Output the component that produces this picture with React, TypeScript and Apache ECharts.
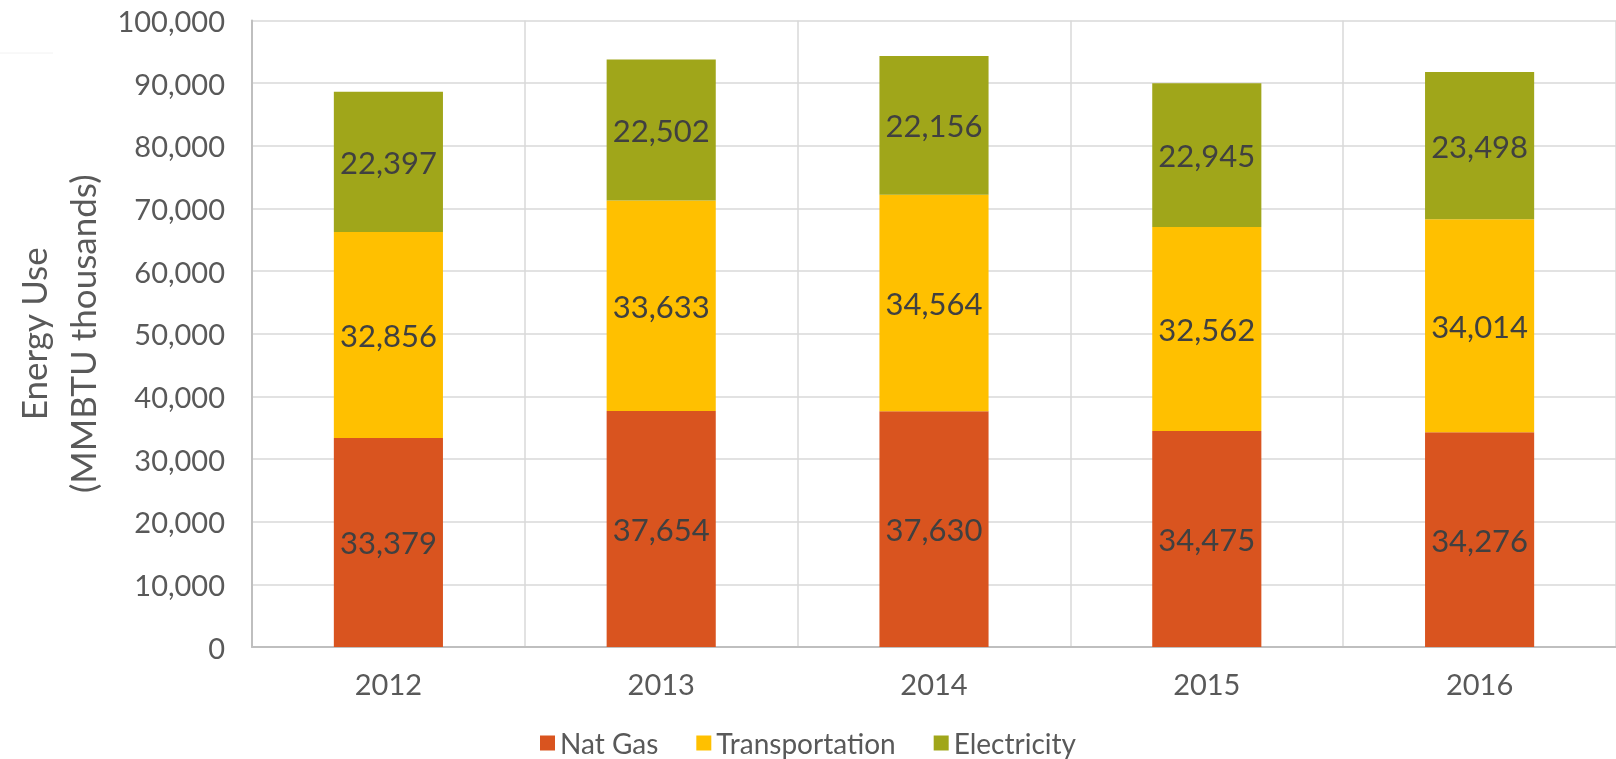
import React, { useEffect, useRef } from "react";
import * as echarts from "echarts";

const years = ["2012", "2013", "2014", "2015", "2016"];
const natGas = [33379, 37654, 37630, 34475, 34276];
const transportation = [32856, 33633, 34564, 32562, 34014];
const electricity = [22397, 22502, 22156, 22945, 23498];
const seriesNames = ["Nat Gas", "Transportation", "Electricity"];
const colors = ["#D9541F", "#FFC000", "#A0A61A"];

const FONT = "Lato";

export default function App() {
  const ref = useRef<HTMLDivElement>(null);
  useEffect(() => {
    document.body.style.margin = "0";
    const chart = echarts.init(ref.current!, null, { renderer: "svg" });
    const fmt = (v: number) => v.toLocaleString("en-US");
    const mk = (name: string, data: number[], color: string) => ({
      name,
      type: "bar",
      stack: "total",
      data,
      barWidth: "40%",
      itemStyle: { color },
      label: {
        show: true,
        position: "inside",
        formatter: (p: any) => fmt(p.value),
        color: "#404040",
        fontFamily: FONT,
        fontSize: 31,
      },
    });
    chart.setOption({
      animation: false,
      textStyle: { fontFamily: FONT },
      grid: { left: 247, top: 20.5, right: 0, bottom: 112, containLabel: false },
      legend: {
        data: seriesNames,
        top: 728,
        padding: 0,
        left: "center",
        itemWidth: 15,
        itemHeight: 15,
        itemGap: 38,
        icon: "rect",
        textStyle: { color: "#595959", fontSize: 28, lineHeight: 30, fontFamily: FONT },
      },
      xAxis: {
        type: "category",
        data: years,
        axisTick: { show: false },
        axisLine: { lineStyle: { color: "#BFBFBF", width: 2 } },
        splitLine: { show: true, lineStyle: { color: "#D9D9D9", width: 1.5 } },
        axisLabel: { color: "#595959", fontSize: 29, fontFamily: FONT, margin: 22 },
      },
      yAxis: {
        type: "value",
        min: 0,
        max: 100000,
        interval: 10000,
        name: "Energy Use\n(MMBTU thousands)",
        nameLocation: "middle",
        nameGap: 146,
        nameTextStyle: { color: "#595959", fontSize: 35, fontFamily: FONT, lineHeight: 49 },
        axisLine: { show: true, lineStyle: { color: "#BFBFBF", width: 2 } },
        axisTick: { show: false },
        splitLine: { lineStyle: { color: "#D9D9D9", width: 1.5 } },
        axisLabel: {
          color: "#595959",
          fontSize: 29,
          fontFamily: FONT,
          margin: 27,
          formatter: (v: number) => fmt(v),
        },
      },
      graphic: [
        {
          type: "line",
          shape: { x1: 0, y1: 53, x2: 53, y2: 53 },
          style: { stroke: "#F2F2F2", lineWidth: 1 },
        },
      ],
      series: [
        mk(seriesNames[0], natGas, colors[0]),
        mk(seriesNames[1], transportation, colors[1]),
        mk(seriesNames[2], electricity, colors[2]),
      ],
    });
    return () => chart.dispose();
  }, []);
  return <div ref={ref} style={{ position: "fixed", left: 0, top: 0, width: 1616, height: 759 }} />;
}
